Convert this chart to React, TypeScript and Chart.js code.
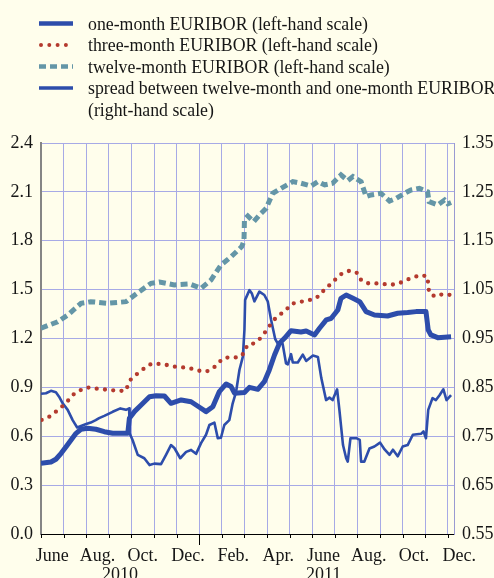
import React, { useEffect, useRef } from "react";
import { Chart, registerables } from "chart.js";

Chart.register(...registerables);

// x values are months since 1 June 2010 (0 = 1 June 2010, 7 = 1 Jan 2011)
const oneMonthX = [0, 0.44, 0.66, 0.89, 1.11, 1.33, 1.55, 1.77, 2.06, 2.43, 2.8, 3.17, 3.84, 3.91, 4.13, 4.43, 4.8, 5.09, 5.46, 5.75, 6.2, 6.64, 7.01, 7.3, 7.6, 7.89, 8.19, 8.41, 8.56, 9.0, 9.22, 9.59, 9.88, 10.1, 10.33, 10.55, 10.77, 11.06, 11.5, 11.73, 12.1, 12.32, 12.62, 12.84, 13.13, 13.27, 13.5, 13.8, 14.1, 14.38, 14.75, 15.33, 15.78, 16.22, 16.59, 17.03, 17.13, 17.25, 17.55, 18.14];
const oneMonthY = [0.434, 0.442, 0.459, 0.495, 0.536, 0.577, 0.618, 0.643, 0.649, 0.643, 0.628, 0.618, 0.618, 0.71, 0.751, 0.792, 0.843, 0.849, 0.847, 0.802, 0.823, 0.812, 0.778, 0.751, 0.781, 0.874, 0.921, 0.905, 0.864, 0.868, 0.9, 0.888, 0.935, 1.007, 1.099, 1.171, 1.201, 1.248, 1.24, 1.246, 1.222, 1.263, 1.314, 1.324, 1.375, 1.447, 1.467, 1.447, 1.426, 1.365, 1.344, 1.338, 1.355, 1.359, 1.365, 1.365, 1.252, 1.222, 1.205, 1.211];

const threeMonthX = [0.03, 0.37, 0.66, 0.92, 1.18, 1.4, 1.7, 2.02, 2.36, 2.73, 3.07, 3.42, 3.76, 3.86, 3.98, 4.28, 4.57, 4.87, 5.21, 5.58, 5.9, 6.27, 6.6, 6.96, 7.3, 7.62, 7.85, 8.11, 8.45, 8.78, 9.0, 9.12, 9.44, 9.66, 9.9, 10.3, 10.55, 10.84, 11.07, 11.36, 11.73, 12.06, 12.36, 12.57, 12.84, 13.1, 13.36, 13.69, 14.02, 14.16, 14.42, 14.77, 15.13, 15.48, 15.85, 16.15, 16.49, 16.81, 17.1, 17.13, 17.17, 17.43, 17.79, 18.14];
const threeMonthY = [0.7, 0.72, 0.751, 0.781, 0.816, 0.853, 0.88, 0.9, 0.894, 0.888, 0.884, 0.878, 0.88, 0.921, 0.95, 0.986, 1.017, 1.044, 1.044, 1.037, 1.027, 1.023, 1.017, 1.003, 0.996, 1.017, 1.052, 1.082, 1.084, 1.084, 1.113, 1.16, 1.171, 1.195, 1.236, 1.314, 1.344, 1.375, 1.412, 1.422, 1.432, 1.441, 1.467, 1.508, 1.535, 1.574, 1.604, 1.617, 1.6, 1.559, 1.539, 1.539, 1.535, 1.529, 1.539, 1.559, 1.576, 1.59, 1.58, 1.53, 1.481, 1.457, 1.473, 1.467];

const twelveMonthX = [0, 0.74, 1.18, 1.77, 2.2, 2.94, 3.76, 4.28, 4.87, 5.24, 5.9, 6.57, 7.08, 7.52, 7.96, 8.41, 8.88, 8.98, 9.0, 9.15, 9.41, 9.66, 9.96, 10.25, 10.62, 11.14, 11.5, 11.95, 12.25, 12.55, 12.9, 13.27, 13.57, 13.8, 14.16, 14.38, 14.6, 15.04, 15.42, 15.71, 16.08, 16.37, 16.74, 17.1, 17.17, 17.55, 17.85, 18.0, 18.14];
const twelveMonthY = [1.263, 1.303, 1.344, 1.416, 1.426, 1.416, 1.426, 1.481, 1.539, 1.547, 1.529, 1.535, 1.508, 1.559, 1.651, 1.702, 1.764, 1.8, 1.93, 1.952, 1.917, 1.958, 1.999, 2.091, 2.122, 2.163, 2.153, 2.136, 2.163, 2.143, 2.153, 2.204, 2.169, 2.194, 2.163, 2.071, 2.081, 2.091, 2.044, 2.06, 2.091, 2.112, 2.122, 2.101, 2.04, 2.02, 2.05, 2.027, 2.035];

const spreadX = [0, 0.22, 0.44, 0.66, 0.8, 0.96, 1.18, 1.4, 1.6, 1.77, 2.0, 2.2, 2.42, 2.57, 2.8, 3.17, 3.51, 3.76, 3.9, 3.92, 4.05, 4.28, 4.57, 4.8, 5.01, 5.31, 5.53, 5.75, 5.9, 6.16, 6.42, 6.64, 6.86, 7.08, 7.3, 7.45, 7.67, 7.82, 7.96, 8.11, 8.33, 8.48, 8.63, 8.78, 8.93, 9.0, 9.03, 9.22, 9.33, 9.44, 9.66, 9.88, 10.03, 10.18, 10.36, 10.47, 10.69, 10.84, 10.92, 11.06, 11.14, 11.36, 11.58, 11.73, 12.03, 12.25, 12.4, 12.61, 12.76, 12.9, 13.1, 13.2, 13.36, 13.5, 13.57, 13.69, 13.95, 14.1, 14.16, 14.3, 14.53, 14.75, 15.0, 15.2, 15.42, 15.57, 15.78, 16.0, 16.22, 16.45, 16.81, 16.92, 17.03, 17.13, 17.32, 17.47, 17.63, 17.8, 17.94, 18.14];
const spreadY = [0.837, 0.838, 0.843, 0.84, 0.831, 0.8175, 0.804, 0.783, 0.768, 0.771, 0.775, 0.778, 0.783, 0.787, 0.7916, 0.8, 0.807, 0.804, 0.807, 0.756, 0.7424, 0.712, 0.705, 0.691, 0.694, 0.693, 0.712, 0.732, 0.726, 0.705, 0.718, 0.722, 0.714, 0.736, 0.753, 0.773, 0.778, 0.746, 0.747, 0.773, 0.783, 0.8175, 0.841, 0.886, 0.913, 0.968, 1.029, 1.049, 1.042, 1.026, 1.046, 1.039, 1.026, 0.988, 0.949, 0.94, 0.939, 0.899, 0.897, 0.918, 0.901, 0.901, 0.917, 0.904, 0.915, 0.912, 0.869, 0.824, 0.829, 0.824, 0.846, 0.804, 0.732, 0.705, 0.698, 0.746, 0.746, 0.7425, 0.698, 0.698, 0.725, 0.729, 0.737, 0.723, 0.712, 0.7224, 0.709, 0.729, 0.732, 0.753, 0.755, 0.76, 0.746, 0.804, 0.828, 0.824, 0.834, 0.846, 0.824, 0.834];

const leftTicks = [0, 0.3, 0.6, 0.9, 1.2, 1.5, 1.8, 2.1, 2.4];
const rightTicks = [0.55, 0.65, 0.75, 0.85, 0.95, 1.05, 1.15, 1.25, 1.35];
const monthGrid = [0, 1, 2, 3, 4, 5, 6, 7, 8, 9, 10, 11, 12, 13, 14, 15, 16, 17, 18];
const monthLabels = ["June", "Aug.", "Oct.", "Dec.", "Feb.", "Apr.", "June", "Aug.", "Oct.", "Dec."];
const monthLabelPos = [0.5, 2.5, 4.5, 6.5, 8.5, 10.5, 12.5, 14.5, 16.5, 18.5];
const yearLabels = ["2010", "2011"];
const yearLabelPos = [3.5, 12.5];
const legendLines = [
  "one-month EURIBOR (left-hand scale)",
  "three-month EURIBOR (left-hand scale)",
  "twelve-month EURIBOR (left-hand scale)",
  "spread between twelve-month and one-month EURIBOR",
  "(right-hand scale)",
];

const BLUE = "#2d4dab";
const RED = "#b43a2e";
const TEAL = "#6496a7";
const GRID = "#a7aae6";
const BG = "#fffeec";
const FAMILY = "'Liberation Serif', 'Times New Roman', serif";
const TEXT = "#161616";

const pts = (xs: number[], ys: number[]) => xs.map((x, i) => ({ x, y: ys[i] }));

const decor = {
  id: "decor",
  beforeDraw(chart: any) {
    const { ctx, width, height } = chart;
    ctx.save();
    ctx.fillStyle = BG;
    ctx.fillRect(0, 0, width, height);
    ctx.restore();
  },
  afterDraw(chart: any) {
    const { ctx, chartArea } = chart;
    const xs = chart.scales.x;
    ctx.save();
    // x tick marks
    ctx.strokeStyle = "#000";
    ctx.lineWidth = 1;
    monthGrid.forEach((m) => {
      const x = Math.round(xs.getPixelForValue(m)) + 0.5;
      const len = m === 7 ? 11 : 4;
      ctx.beginPath();
      ctx.moveTo(x, chartArea.bottom);
      ctx.lineTo(x, chartArea.bottom + len);
      ctx.stroke();
    });
    // month and year labels
    ctx.font = "18px " + FAMILY;
    ctx.fillStyle = TEXT;
    ctx.textAlign = "center";
    ctx.textBaseline = "alphabetic";
    monthLabels.forEach((t, i) => ctx.fillText(t, xs.getPixelForValue(monthLabelPos[i]), 561));
    yearLabels.forEach((t, i) => ctx.fillText(t, xs.getPixelForValue(yearLabelPos[i]), 580));
    // legend
    const ds = chart.data.datasets;
    ctx.font = "17.8px " + FAMILY;
    ctx.textAlign = "left";
    legendLines.forEach((t, i) => ctx.fillText(t, 88, 29.5 + i * 21.5));
    ds.forEach((d: any, i: number) => {
      const y = 23.5 + i * 21.5;
      ctx.beginPath();
      ctx.strokeStyle = d.borderColor;
      ctx.lineWidth = i === 3 ? 3.5 : d.legendWidth;
      ctx.lineCap = d.borderCapStyle || "butt";
      ctx.setLineDash(d.borderDash || []);
      ctx.moveTo(i === 1 ? 41 : 39, y);
      ctx.lineTo(73, y);
      ctx.stroke();
    });
    ctx.restore();
  },
};

export default function App() {
  const ref = useRef<HTMLCanvasElement>(null);
  useEffect(() => {
    if (!ref.current) return;
    const chart = new Chart(ref.current, {
      type: "line",
      data: {
        datasets: [
          {
            label: legendLines[0],
            data: pts(oneMonthX, oneMonthY),
            borderColor: BLUE,
            borderWidth: 5,
            legendWidth: 4.5,
            yAxisID: "y",
            pointRadius: 0,
            tension: 0,
            borderJoinStyle: "round",
          } as any,
          {
            label: legendLines[1],
            data: pts(threeMonthX, threeMonthY),
            borderColor: RED,
            borderWidth: 4.3,
            legendWidth: 4,
            borderDash: [0, 8.3],
            borderCapStyle: "round",
            yAxisID: "y",
            pointRadius: 0,
            tension: 0,
          } as any,
          {
            label: legendLines[2],
            data: pts(twelveMonthX, twelveMonthY),
            borderColor: TEAL,
            borderWidth: 5,
            legendWidth: 4.5,
            borderDash: [7, 4],
            yAxisID: "y",
            pointRadius: 0,
            tension: 0,
          } as any,
          {
            label: legendLines[3],
            data: pts(spreadX, spreadY),
            borderColor: BLUE,
            borderWidth: 2.6,
            legendWidth: 3.5,
            yAxisID: "y1",
            pointRadius: 0,
            tension: 0,
            borderJoinStyle: "round",
          } as any,
        ],
      },
      options: {
        responsive: false,
        animation: false,
        devicePixelRatio: 1,
        layout: { padding: { top: 143, left: 0, right: 0, bottom: 0 } },
        plugins: { legend: { display: false }, tooltip: { enabled: false } },
        scales: {
          x: {
            type: "linear",
            min: 0,
            max: 18.27,
            afterBuildTicks: (s: any) => {
              s.ticks = monthGrid.map((v) => ({ value: v }));
            },
            afterFit: (s: any) => {
              s.height = 44;
            },
            ticks: { display: false },
            grid: { color: GRID, lineWidth: 1, drawTicks: false },
            border: { color: "#000", width: 1 },
          },
          y: {
            type: "linear",
            position: "left",
            min: 0,
            max: 2.4,
            afterBuildTicks: (s: any) => {
              s.ticks = leftTicks.map((v) => ({ value: v }));
            },
            afterFit: (s: any) => {
              s.width = 41;
            },
            ticks: {
              padding: 8,
              color: TEXT,
              font: { family: FAMILY, size: 18 },
              callback: (v: any) => Number(v).toFixed(1),
            },
            grid: { color: GRID, lineWidth: 1, drawTicks: false },
            border: { color: "#858585", width: 2 },
          },
          y1: {
            type: "linear",
            position: "right",
            min: 0.55,
            max: 1.35,
            afterBuildTicks: (s: any) => {
              s.ticks = rightTicks.map((v) => ({ value: v }));
            },
            afterFit: (s: any) => {
              s.width = 40;
            },
            ticks: {
              padding: 8,
              color: TEXT,
              font: { family: FAMILY, size: 18 },
              callback: (v: any) => Number(v).toFixed(2),
            },
            grid: { display: false, drawTicks: false },
            border: { color: "#9a9ad2", width: 1 },
          },
        },
      } as any,
      plugins: [decor],
    });
    return () => chart.destroy();
  }, []);
  return (
    <div style={{ position: "absolute", left: 0, top: 0, width: 494, height: 578, background: BG }}>
      <canvas ref={ref} width={494} height={578} style={{ display: "block" }} />
    </div>
  );
}
